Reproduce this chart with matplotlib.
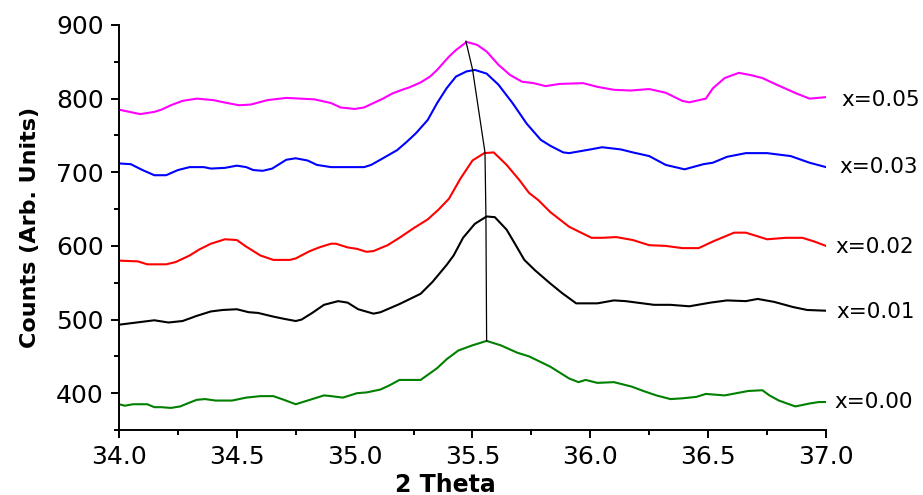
import matplotlib
matplotlib.use("Agg")
import matplotlib.pyplot as plt
from matplotlib.ticker import MultipleLocator

# XRD scans around the 35.5 deg peak
theta_005 = [34.00, 34.09, 34.15, 34.18, 34.22, 34.27, 34.33, 34.40, 34.46, 34.51, 34.56, 34.63,
             34.71, 34.77, 34.83, 34.90, 34.94, 35.00, 35.04, 35.08, 35.12, 35.16, 35.21, 35.23,
             35.28, 35.32, 35.35, 35.40, 35.43, 35.475, 35.52, 35.56, 35.61, 35.66, 35.71, 35.76,
             35.81, 35.87, 35.97, 36.03, 36.10, 36.17, 36.25, 36.32, 36.39, 36.42, 36.49, 36.52,
             36.57, 36.63, 36.68, 36.73, 36.79, 36.875, 36.93, 37.00]
counts_005 = [785, 779, 782, 785, 791, 797, 800, 798, 794, 791, 792, 798,
              801, 800, 799, 794, 788, 786, 788, 794, 800, 807, 813, 815,
              822, 830, 839, 857, 866, 877, 873, 864, 846, 832, 823, 821,
              817, 820, 821, 816, 812, 811, 813, 808, 797, 795, 800, 814,
              828, 835, 832, 828, 819, 807, 800, 802]

theta_003 = [34.00, 34.05, 34.10, 34.15, 34.20, 34.25, 34.30, 34.36, 34.39, 34.45, 34.50, 34.54,
             34.57, 34.61, 34.65, 34.71, 34.75, 34.80, 34.84, 34.90, 34.97, 35.04, 35.07, 35.12,
             35.18, 35.22, 35.26, 35.31, 35.35, 35.39, 35.43, 35.475, 35.51, 35.56, 35.61, 35.67,
             35.73, 35.79, 35.83, 35.885, 35.91, 36.00, 36.05, 36.13, 36.18, 36.25, 36.32, 36.40,
             36.48, 36.52, 36.58, 36.66, 36.75, 36.85, 36.93, 37.00]
counts_003 = [712, 711, 703, 696, 696, 703, 707, 707, 705, 706, 709, 707,
              703, 702, 705, 717, 719, 716, 710, 707, 707, 707, 710, 719,
              730, 741, 753, 771, 794, 814, 830, 837, 839, 834, 819, 794,
              766, 744, 736, 727, 726, 731, 734, 731, 727, 722, 710, 704,
              711, 713, 721, 726, 726, 722, 713, 707]

theta_002 = [34.00, 34.08, 34.12, 34.20, 34.24, 34.30, 34.34, 34.39, 34.45, 34.50, 34.54, 34.60,
             34.655, 34.725, 34.75, 34.81, 34.85, 34.90, 34.92, 34.97, 35.01, 35.05, 35.08, 35.14,
             35.19, 35.25, 35.31, 35.355, 35.40, 35.45, 35.50, 35.55, 35.59, 35.645, 35.70, 35.74,
             35.78, 35.83, 35.91, 36.005, 36.05, 36.11, 36.18, 36.25, 36.32, 36.39, 36.46, 36.52,
             36.61, 36.66, 36.75, 36.83, 36.90, 36.95, 37.00]
counts_002 = [580, 579, 575, 575, 578, 587, 595, 603, 609, 608, 599, 587,
              581, 581, 583, 593, 598, 603, 603, 598, 596, 592, 593, 601,
              611, 624, 636, 649, 664, 692, 716, 726, 727, 710, 689, 672,
              662, 646, 626, 611, 611, 612, 608, 601, 600, 597, 597, 606,
              618, 618, 609, 611, 611, 606, 600]

theta_001 = [34.00, 34.075, 34.15, 34.21, 34.27, 34.33, 34.39, 34.44, 34.50, 34.55, 34.59, 34.655,
             34.70, 34.75, 34.775, 34.82, 34.87, 34.93, 34.97, 35.015, 35.08, 35.11, 35.19, 35.28,
             35.33, 35.39, 35.42, 35.46, 35.51, 35.56, 35.595, 35.645, 35.68, 35.72, 35.765, 35.83,
             35.88, 35.94, 36.03, 36.10, 36.15, 36.27, 36.34, 36.42, 36.51, 36.58, 36.66, 36.71,
             36.78, 36.86, 36.92, 37.00]
counts_001 = [493, 496, 499, 496, 498, 505, 511, 513, 514, 510, 509, 504,
              501, 498, 500, 509, 520, 525, 523, 514, 508, 510, 521, 535,
              551, 574, 587, 611, 630, 640, 639, 622, 603, 581, 567, 549,
              536, 522, 522, 526, 525, 520, 520, 518, 523, 526, 525, 528,
              524, 517, 513, 512]

theta_000 = [34.00, 34.025, 34.06, 34.12, 34.15, 34.18, 34.22, 34.26, 34.29, 34.33, 34.365, 34.41,
             34.48, 34.51, 34.54, 34.60, 34.655, 34.70, 34.75, 34.80, 34.87, 34.90, 34.95, 35.01,
             35.05, 35.11, 35.15, 35.19, 35.28, 35.35, 35.39, 35.44, 35.50, 35.56, 35.62, 35.69,
             35.74, 35.83, 35.91, 35.95, 35.98, 36.03, 36.10, 36.175, 36.225, 36.28, 36.34, 36.39,
             36.45, 36.49, 36.57, 36.62, 36.67, 36.73, 36.76, 36.80, 36.87, 36.93, 36.97, 37.00]
counts_000 = [385, 383, 385, 385, 381, 381, 380, 382, 386, 391, 392, 390,
              390, 392, 394, 396, 396, 391, 385, 390, 397, 396, 394, 400,
              401, 405, 411, 418, 418, 434, 446, 458, 465, 471, 465, 455,
              450, 436, 420, 415, 418, 414, 415, 409, 403, 397, 392, 393,
              395, 399, 397, 400, 403, 404, 397, 390, 382, 386, 388, 388]

# peak shift guide line
peak_theta = [35.472, 35.50, 35.553, 35.557, 35.56]
peak_counts = [878, 840, 727, 641, 471]

labels = ["x=0.05", "x=0.03", "x=0.02", "x=0.01", "x=0.00"]
colors = ["#ff00ff", "#0000ff", "#ff0000", "#000000", "#008000"]

series = [(theta_005, counts_005), (theta_003, counts_003), (theta_002, counts_002),
          (theta_001, counts_001), (theta_000, counts_000)]
label_pos = [(37.065, 798), (37.055, 707), (37.04, 599), (37.045, 510), (37.035, 388)]

fig = plt.figure(figsize=(9.23, 4.95), dpi=100)
ax = fig.add_axes([0.1289, 0.1313, 0.766, 0.8182])

for (tx, cy), c, lab, (lx, ly) in zip(series, colors, labels, label_pos):
    ax.plot(tx, cy, color=c, lw=1.5)
    ax.text(lx, ly, lab, color="black", fontsize=15.5, va="center", ha="left", clip_on=False)

ax.plot(peak_theta, peak_counts, color="black", lw=0.9)

ax.set_xlim(34.0, 37.0)
ax.set_ylim(350, 900)
ax.xaxis.set_major_locator(MultipleLocator(0.5))
ax.xaxis.set_minor_locator(MultipleLocator(0.25))
ax.yaxis.set_major_locator(MultipleLocator(100))
ax.yaxis.set_minor_locator(MultipleLocator(50))
ax.xaxis.set_major_formatter(plt.FormatStrFormatter("%.1f"))

for s in ["top", "right"]:
    ax.spines[s].set_visible(False)
for s in ["left", "bottom"]:
    ax.spines[s].set_linewidth(1.4)

ax.tick_params(which="major", direction="out", length=6, width=1.4, labelsize=18, pad=5)
ax.tick_params(which="minor", direction="out", length=3.5, width=1.4)

ax.set_xlabel("2 Theta", fontsize=17, fontweight="bold")
ax.xaxis.set_label_coords(0.461, -0.105)
ax.set_ylabel("Counts (Arb. Units)", fontsize=16, fontweight="bold")
ax.yaxis.set_label_coords(-0.112, 0.5)
ax.yaxis.label.set_va("bottom")

fig.savefig("out.png", dpi=100)
